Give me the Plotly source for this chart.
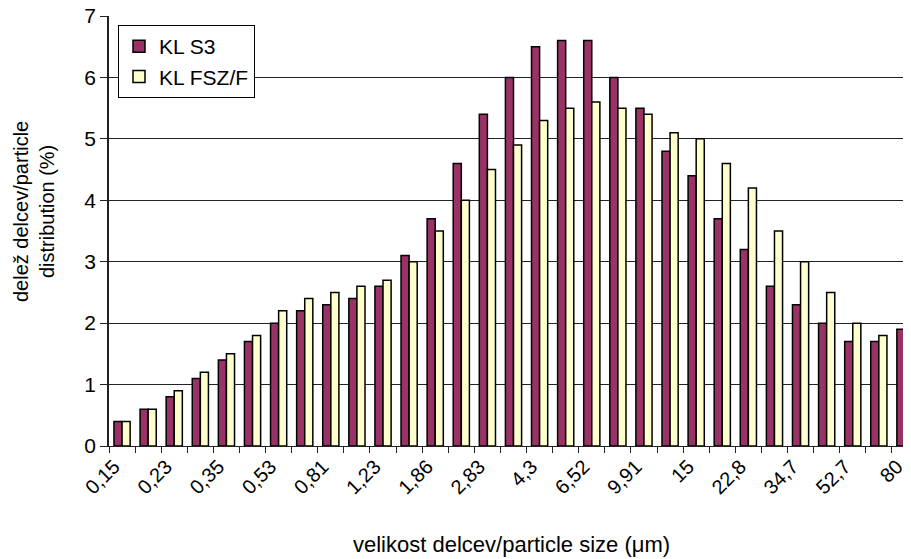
import plotly.graph_objects as go

sizes = ["0,15", "0,18", "0,23", "0,28", "0,35", "0,43", "0,53", "0,65", "0,81", "1",
         "1,23", "1,51", "1,86", "2,29", "2,83", "3,49", "4,3", "5,29", "6,52", "8,04",
         "9,91", "12,2", "15", "18,5", "22,8", "28,1", "34,7", "42,7", "52,7", "65", "80"]
shown_labels = ["0,15", "0,23", "0,35", "0,53", "0,81", "1,23", "1,86", "2,83", "4,3",
                "6,52", "9,91", "15", "22,8", "34,7", "52,7", "80"]
kl_s3 = [0.4, 0.6, 0.8, 1.1, 1.4, 1.7, 2.0, 2.2, 2.3, 2.4, 2.6, 3.1, 3.7, 4.6, 5.4, 6.0,
         6.5, 6.6, 6.6, 6.0, 5.5, 4.8, 4.4, 3.7, 3.2, 2.6, 2.3, 2.0, 1.7, 1.7, 1.9]
kl_fsz = [0.4, 0.6, 0.9, 1.2, 1.5, 1.8, 2.2, 2.4, 2.5, 2.6, 2.7, 3.0, 3.5, 4.0, 4.5, 4.9,
          5.3, 5.5, 5.6, 5.5, 5.4, 5.1, 5.0, 4.6, 4.2, 3.5, 3.0, 2.5, 2.0, 1.8, 1.9]
y_ticks = [0, 1, 2, 3, 4, 5, 6, 7]

FONT = "Liberation Sans, Arial, sans-serif"

# the page body adds an 8px margin; place the plot so it lands where the reference has it
OFF = 8
PLOT_L, PLOT_T, PLOT_B = 109, 16, 446
W, H = 911 - OFF, 559 - OFF
PW, PH = 911 - PLOT_L, PLOT_B - PLOT_T

fig = go.Figure()
fig.add_trace(go.Bar(x=sizes, y=kl_s3, name="KL S3",
                     marker=dict(color="#993366", line=dict(color="black", width=1.5))))
fig.add_trace(go.Bar(x=sizes, y=kl_fsz, name="KL FSZ/F",
                     marker=dict(color="#FFFFCC", line=dict(color="black", width=1.5))))

ticktext = [s if s in shown_labels else "" for s in sizes]
n = len(sizes)

fig.update_layout(
    width=W, height=H,
    margin=dict(l=PLOT_L - OFF, r=0, t=PLOT_T - OFF, b=H - (PLOT_B - OFF), autoexpand=False),
    paper_bgcolor="white", plot_bgcolor="white",
    barmode="group", bargap=0.38, bargroupgap=0,
    font=dict(family=FONT, color="black", size=20),
    showlegend=True,
    legend=dict(x=9 / PW, y=1 - 9 / PH, xanchor="left", yanchor="top",
                bordercolor="black", borderwidth=1, bgcolor="white",
                font=dict(size=21, family=FONT), traceorder="normal"),
    xaxis=dict(type="category", range=[-0.5, n - 0.5 - 7 / 26.1],
               tickmode="array", tickvals=sizes, ticktext=ticktext,
               tickson="boundaries", ticks="outside", ticklen=6,
               tickcolor="#222", tickangle=-45, ticklabelshift=-8,
               ticklabeloverflow="allow",
               tickfont=dict(size=20, family=FONT),
               showline=True, linecolor="#222", linewidth=1,
               showgrid=False, zeroline=False, automargin=False),
    yaxis=dict(range=[0, 7], tickvals=y_ticks, ticks="outside", ticklen=7,
               tickcolor="#222", tickfont=dict(size=21, family=FONT),
               ticklabeloverflow="allow",
               showline=True, linecolor="#222", linewidth=1.5,
               showgrid=True, gridcolor="#222", gridwidth=1, zeroline=False,
               automargin=False),
    annotations=[
        dict(text="delež delcev/particle<br>distribution (%)", textangle=-90,
             xref="paper", yref="paper", x=(34 - PLOT_L) / PW, y=(PLOT_B - 212) / PH,
             xanchor="center", yanchor="middle", showarrow=False,
             font=dict(size=20, family=FONT)),
        dict(text="velikost delcev/particle size (μm)",
             xref="paper", yref="paper", x=(512 - PLOT_L) / PW, y=-(544 - PLOT_B) / PH,
             xanchor="center", yanchor="middle", showarrow=False,
             font=dict(size=22, family=FONT)),
    ],
)

fig.write_html("out.html")
